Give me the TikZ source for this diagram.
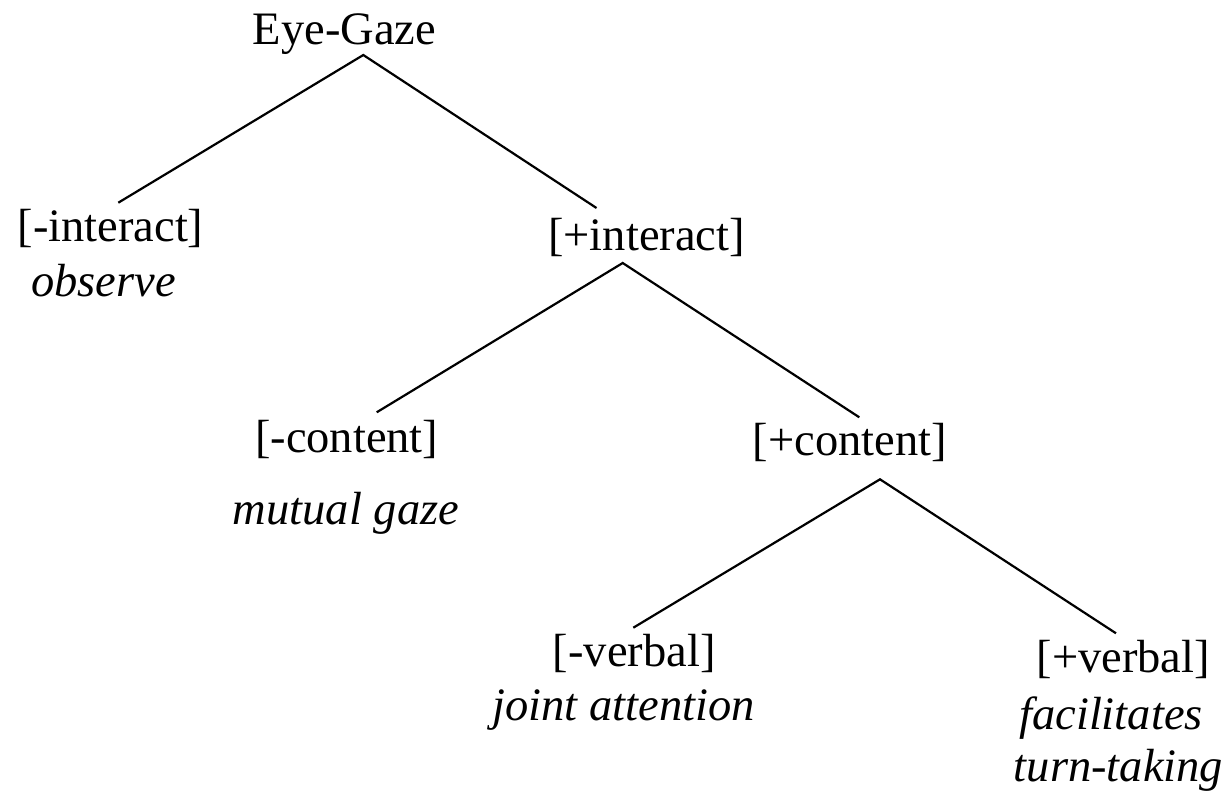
\documentclass[tikz,border=0pt]{standalone}
\usepackage{fontspec}
\setmainfont{Liberation Serif}
\begin{document}
\begin{tikzpicture}[x=1pt,y=-1pt,
  feat/.style={anchor=base,inner sep=0pt,font=\fontsize{46.5}{50}\selectfont},
  gloss/.style={anchor=base,inner sep=0pt,font=\fontsize{46.5}{50}\selectfont\itshape},
  branch/.style={draw=black,line width=2.2pt}]
\useasboundingbox (0,0) rectangle (1231,793);
% labels
\node[feat] (eg) at (344.5,44.3) {Eye-Gaze};
\node[feat] (mi) at (110.5,241.7) {[-interact]};
\node[gloss] (obs) at (103.7,296) {observe};
\node[feat] (pi) at (646.5,250) {[+interact]};
\node[feat] (mc) at (346.7,452.7) {[-content]};
\node[gloss] (mg) at (346,524) {mutual gaze};
\node[feat] (pc) at (850,455) {[+content]};
\node[feat] (mv) at (634.3,666.7) {[-verbal]};
\node[gloss] (ja) at (623.5,720.7) {joint attention};
\node[feat] (pv) at (1123.3,672.7) {[+verbal]};
\node[gloss] (fa) at (1111,729) {facilitates};
\node[gloss] (tt) at (1118.5,781.7) {turn-taking};
% branch points
\coordinate (eg-a) at (363.3,55);
\coordinate (mi-t) at (118.3,202.7);
\coordinate (pi-t) at (596.5,208);
\coordinate (pi-a) at (622.7,263);
\coordinate (mc-t) at (376.7,412.3);
\coordinate (pc-t) at (859.3,417.3);
\coordinate (pc-a) at (880,479.3);
\coordinate (mv-t) at (633.3,627.7);
\coordinate (pv-t) at (1116,633.3);
% connectors
\draw[branch] (mi-t) -- (eg-a) -- (pi-t);
\draw[branch] (mc-t) -- (pi-a) -- (pc-t);
\draw[branch] (mv-t) -- (pc-a) -- (pv-t);
\end{tikzpicture}
\end{document}
